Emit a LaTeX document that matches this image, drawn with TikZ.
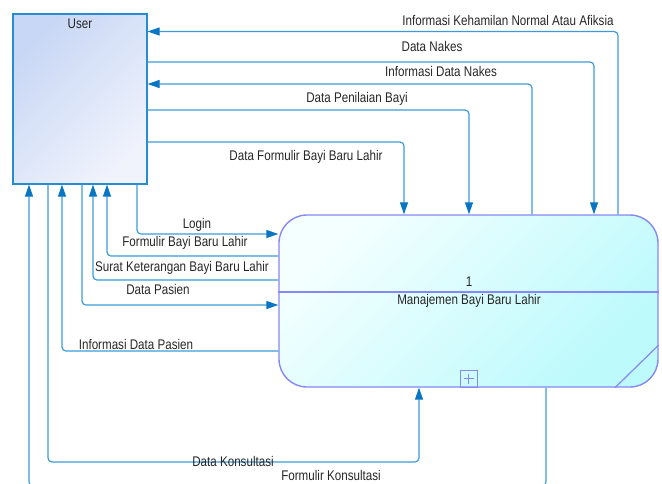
\documentclass[tikz,border=0pt]{standalone}
\usepackage{fontspec}
\setmainfont{Liberation Sans}[FakeStretch=0.83]
\usetikzlibrary{arrows.meta}

\definecolor{flowblue}{RGB}{60,155,215}
\definecolor{tipblue}{RGB}{8,118,195}
\definecolor{useredge}{RGB}{40,140,210}
\definecolor{usertop}{RGB}{200,215,245}
\definecolor{userbot}{RGB}{240,243,252}
\definecolor{procedge}{RGB}{135,135,245}
\definecolor{proctop}{RGB}{244,255,255}
\definecolor{procbot}{RGB}{188,250,252}

\begin{document}
\begin{tikzpicture}[x=1pt,y=-1pt,
    flow/.style={draw=flowblue,line width=1.2pt,rounded corners=4pt,
      -{Triangle[length=12pt,width=8pt,color=tipblue]}},
    lbl/.style={font=\fontsize{14}{16}\selectfont,text=black!85,inner sep=0pt,
      text height=10pt,text depth=0pt}]
  \useasboundingbox (0,0) rectangle (662,483);

  % external entity and process
  \node[draw=useredge,line width=1.2pt,top color=usertop,bottom color=userbot,
    shading angle=45,minimum width=134pt,minimum height=170pt,inner sep=0pt]
    (user) at (80,99) {};
  \node[draw=procedge,line width=1.4pt,rounded corners=28pt,top color=proctop,
    bottom color=procbot,shading angle=45,minimum width=379pt,minimum height=172pt,
    inner sep=0pt] (proc) at (468.5,301) {};

  \node[lbl] (usertitle) at (80,23) {User};
  \draw[procedge,line width=1.2pt] (proc.west |- 0,292) -- (proc.east |- 0,292);
  \node[lbl] (procid) at (469,281) {1};
  \node[lbl] (procname) at (469,299) {Manajemen Bayi Baru Lahir};
  \node[draw=procedge,line width=1pt,minimum size=17pt,inner sep=0pt,anchor=south]
    (plus) at (proc.south) {};
  \draw[procedge,line width=0.8pt] ([xshift=-5pt]plus.center) -- ([xshift=5pt]plus.center)
    ([yshift=-5pt]plus.center) -- ([yshift=5pt]plus.center);
  \draw[procedge,line width=1.2pt] (615,0 |- proc.south) -- (proc.east |- 0,345);

  % flows over the top
  \draw[flow] (618,0 |- proc.north) |- (user.east |- 0,31.5);
  \draw[flow] (user.east |- 0,62) -| (594,0 |- proc.north);
  \draw[flow] (532,0 |- proc.north) |- (user.east |- 0,84);
  \draw[flow] (user.east |- 0,110) -| (469,0 |- proc.north);
  \draw[flow] (user.east |- 0,142) -| (404,0 |- proc.north);

  % flows on the left
  \draw[flow] (137,0 |- user.south) |- (proc.west |- 0,234);
  \draw[flow] (proc.west |- 0,256) -| (107,0 |- user.south);
  \draw[flow] (proc.west |- 0,280) -| (93,0 |- user.south);
  \draw[flow] (82,0 |- user.south) |- (proc.west |- 0,305);
  \draw[flow] (proc.west |- 0,351) -| (62,0 |- user.south);

  % flows underneath
  \draw[flow] (48,0 |- user.south) |- (419,462) -- (419,0 |- proc.south);
  \draw[flow] (546,0 |- proc.south) |- (29,486) -- (29,0 |- user.south);

  \foreach[count=\i] \x/\y/\txt in {
      508/20/Informasi Kehamilan Normal Atau Afiksia,
      432/46/Data Nakes,
      441/71/Informasi Data Nakes,
      357/97/Data Penilaian Bayi,
      306/155/Data Formulir Bayi Baru Lahir,
      197/223/Login,
      185/241/Formulir Bayi Baru Lahir,
      182/266/Surat Keterangan Bayi Baru Lahir,
      158/289/Data Pasien,
      136/344/Informasi Data Pasien,
      233/461/Data Konsultasi,
      331/475/Formulir Konsultasi} {
    \node[lbl] (flowlbl\i) at (\x,\y) {\txt};
  }
\end{tikzpicture}
\end{document}
